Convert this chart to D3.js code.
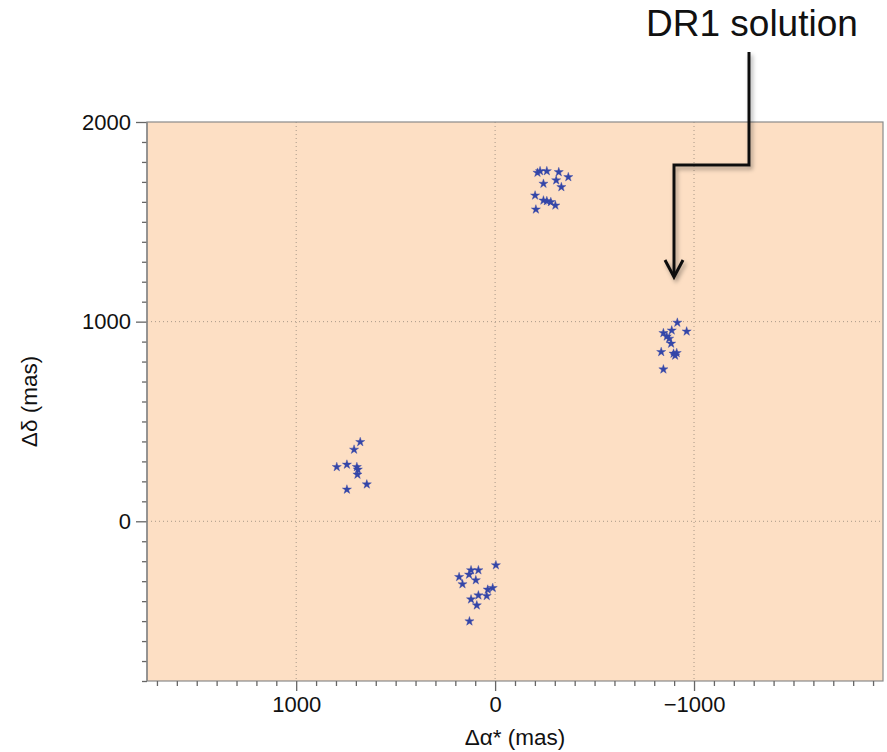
<!DOCTYPE html>
<html><head><meta charset="utf-8">
<script src="https://cdn.jsdelivr.net/npm/d3@7/dist/d3.min.js"></script>
<style>body{margin:0;background:#fff;} svg{display:block;font-family:"Liberation Sans",Arial,Helvetica,sans-serif;}</style>
</head><body>
<svg id="chart" width="887" height="752"></svg>
<script>
// Data (mas)
const groupA_x = [-213,-226,-260,-320,-368,-307,-243,-333,-201,-243,-260,-280,-303,-205];
const groupA_y = [1746,1754,1754,1749,1724,1708,1691,1674,1632,1607,1604,1599,1582,1562];
const groupB_x = [-916,-963,-888,-846,-863,-875,-885,-835,-897,-913,-905,-846];
const groupB_y = [995,951,956,943,926,915,890,848,840,843,830,761];
const groupC_x = [678,709,796,745,695,690,692,645,745];
const groupC_y = [397,359,272,284,272,259,234,185,159];
const groupD_x = [-4,121,84,131,181,97,164,12,37,42,84,121,92,129];
const groupD_y = [-220,-245,-245,-267,-279,-295,-315,-334,-342,-374,-371,-391,-421,-501];
const xDomain = [1750, -1950];
const yDomain = [-800, 2000];
const xMajorTicks = [1000, 0, -1000];
const xTickLabels = ["1000", "0", "\u22121000"];
const yMajorTicks = [0, 1000, 2000];
const yTickLabels = ["0", "1000", "2000"];
const xTitle = "\u0394\u03b1* (mas)";
const yTitle = "\u0394\u03b4 (mas)";
const annotation = "DR1 solution";

const svg = d3.select("#chart");
const L = 147, R = 883, T = 122, B = 681;
const x = d3.scaleLinear().domain(xDomain).range([L, R]);
const y = d3.scaleLinear().domain(yDomain).range([B, T]);

const defs = svg.append("defs");
const f = defs.append("filter").attr("id","shadow").attr("x","-50%").attr("y","-50%").attr("width","200%").attr("height","200%");
f.append("feDropShadow").attr("dx",2).attr("dy",3).attr("stdDeviation",2).attr("flood-color","#000").attr("flood-opacity",0.35);

// Background
svg.append("rect").attr("x",L).attr("y",T).attr("width",R-L).attr("height",B-T).attr("fill","#fddfc4");

// Grid
const grid = svg.append("g").attr("stroke","#a89888").attr("stroke-width",1).attr("stroke-dasharray","1,3");
xMajorTicks.forEach(v=>grid.append("line").attr("x1",x(v)).attr("x2",x(v)).attr("y1",T).attr("y2",B));
yMajorTicks.filter(v=>v>yDomain[0]&&v<yDomain[1]).forEach(v=>grid.append("line").attr("y1",y(v)).attr("y2",y(v)).attr("x1",L).attr("x2",R));

// Frame
svg.append("rect").attr("x",L).attr("y",T).attr("width",R-L).attr("height",B-T).attr("fill","none").attr("stroke","#8a8a8a").attr("stroke-width",1.2);

// Axes
const xMinor = d3.range(-1900, 1800, 100);
const yMinor = d3.range(-800, 2001, 100);
const xAxisMinor = d3.axisBottom(x).tickValues(xMinor.filter(v=>v%1000!==0)).tickSize(5).tickFormat("");
const xAxisMajor = d3.axisBottom(x).tickValues(xMajorTicks).tickSize(10).tickPadding(5).tickFormat((d,i)=>xTickLabels[i]);
const yAxisMinor = d3.axisLeft(y).tickValues(yMinor.filter(v=>v%1000!==0)).tickSize(5).tickFormat("");
const yAxisMajor = d3.axisLeft(y).tickValues(yMajorTicks).tickSize(11).tickPadding(5).tickFormat((d,i)=>yTickLabels[i]);

function style(g){
  g.select(".domain").remove();
  g.selectAll("line").attr("stroke","#666").attr("stroke-width",1.3);
  g.selectAll("text").attr("fill","#111").attr("font-size",22).attr("font-family","Liberation Sans, Arial, sans-serif");
}
svg.append("g").attr("transform",`translate(0,${B})`).call(xAxisMinor).call(style);
svg.append("g").attr("transform",`translate(0,${B})`).call(xAxisMajor).call(style);
svg.append("g").attr("transform",`translate(${L},0)`).call(yAxisMinor).call(style);
svg.append("g").attr("transform",`translate(${L},0)`).call(yAxisMajor).call(style);
svg.append("line").attr("x1",L).attr("x2",L).attr("y1",T).attr("y2",B).attr("stroke","#8a8a8a").attr("stroke-width",1.5);

// Titles
svg.append("text").attr("x",(L+R)/2).attr("y",745).attr("text-anchor","middle").attr("font-size",22.5).attr("fill","#111").text(xTitle);
svg.append("text").attr("transform",`translate(37,${(T+B)/2}) rotate(-90)`).attr("text-anchor","middle").attr("font-size",22.5).attr("fill","#111").text(yTitle);

// Stars
const pts = [];
[[groupA_x,groupA_y],[groupB_x,groupB_y],[groupC_x,groupC_y],[groupD_x,groupD_y]].forEach(([xs,ys])=>xs.forEach((v,i)=>pts.push([v,ys[i]])));
const star = d3.symbol().type(d3.symbolStar).size(26);
svg.append("g").selectAll("path").data(pts).join("path")
  .attr("d",star).attr("transform",d=>`translate(${x(d[0])},${y(d[1])})`)
  .attr("fill","#3446a8").attr("stroke","#3446a8").attr("stroke-width",0.4);

// Annotation
svg.append("text").attr("x",646).attr("y",36).attr("font-size",37).attr("fill","#111").text(annotation);
const arrow = svg.append("g").attr("filter","url(#shadow)").attr("fill","none").attr("stroke","#111").attr("stroke-width",3);
arrow.append("path").attr("d","M749,52 V165 H674 V276");
arrow.append("path").attr("d","M665,260 L674,277 L683,260").attr("stroke-linejoin","miter");
</script>
</body></html>
